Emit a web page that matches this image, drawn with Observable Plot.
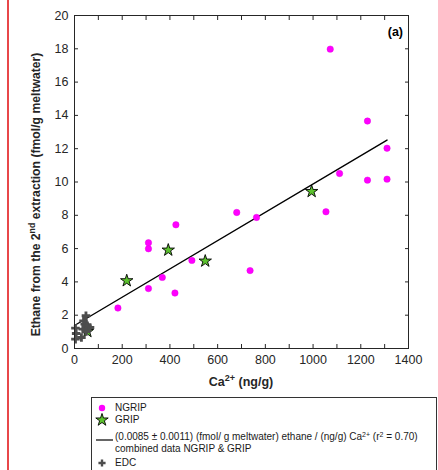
<!DOCTYPE html>
<html>
<head>
<meta charset="utf-8">
<script src="https://cdn.jsdelivr.net/npm/d3@7"></script>
<script src="https://cdn.jsdelivr.net/npm/@observablehq/plot@0.6"></script>
<style>
  body { margin: 0; background: #fff; font-family: "Liberation Sans", Arial, sans-serif; }
  #wrap { position: relative; width: 438px; height: 470px; overflow: hidden; background: #fff; }
  #chart { position: absolute; left: 0; top: 0; }
  #redline { position: absolute; left: 7px; top: 0; width: 2px; height: 470px; background: #e8474a; z-index: 5; }
  #legend { position: absolute; left: 91px; top: 397px; width: 346px; height: 80px; border: 1px solid #333; box-sizing: border-box; background: #fff; color: #1a1a1a; font-size: 10px; }
  #legend .t { position: absolute; left: 23px; white-space: nowrap; line-height: 1; }
  #legend svg { position: absolute; left: 0; top: 0; }
  sup { font-size: 70%; line-height: 0; vertical-align: 0.45em; }
</style>
</head>
<body>
<div id="wrap">
  <div id="chart"></div>
  <div id="legend"></div>
  <div id="redline"></div>
</div>
<script>
// ---- data ----
const ngripCa      = [182, 310, 310, 310, 368, 421, 425, 492, 680, 736, 763, 1054, 1072, 1111, 1228, 1228, 1310, 1310];
const ngripEthane  = [2.43, 6.35, 5.99, 3.60, 4.27, 3.33, 7.43, 5.29, 8.17, 4.68, 7.87, 8.21, 17.98, 10.51, 13.66, 10.11, 12.03, 10.17];
const gripCa       = [54, 219, 393, 548, 994];
const gripEthane   = [1.02, 4.07, 5.91, 5.25, 9.43];
const edcCa        = [48, 38, 43, 54, 65, 4, 35, 49, 7, 29, 4];
const edcEthane    = [1.97, 1.66, 1.46, 1.36, 1.26, 1.22, 1.16, 1.02, 0.90, 0.66, 0.56];
const fitCa        = [0, 1310];
const fitEthane    = [1.38, 12.52];
const xTicks       = [0, 100, 200, 300, 400, 500, 600, 700, 800, 900, 1000, 1100, 1200, 1300, 1400];
const xTickLabels  = ["0", "", "200", "", "400", "", "600", "", "800", "", "1000", "", "1200", "", "1400"];
const yTicks       = [0, 2, 4, 6, 8, 10, 12, 14, 16, 18, 20];

const ngrip = ngripCa.map((x, i) => ({x, y: ngripEthane[i]}));
const grip  = gripCa.map((x, i) => ({x, y: gripEthane[i]}));
const edc   = edcCa.map((x, i) => ({x, y: edcEthane[i]}));
const fit   = fitCa.map((x, i) => ({x, y: fitEthane[i]}));

const axisColor = "#262626";
const W = 438, H = 395, mL = 74, mR = 30, mT = 15, mB = 47;

const plot = Plot.plot({
  width: W, height: H,
  marginLeft: mL, marginRight: mR, marginTop: mT, marginBottom: mB,
  style: { fontFamily: "'Liberation Sans', Arial, sans-serif", fontSize: "12.5px", color: axisColor, background: "#fff" },
  x: { domain: [0, 1400], label: null },
  y: { domain: [0, 20], label: null },
  marks: [
    Plot.line(fit, { x: "x", y: "y", stroke: "#000", strokeWidth: 1.4 }),
    Plot.dot(ngrip, { x: "x", y: "y", r: 3.2, fill: "#ff00ff", stroke: "#e600e6", strokeWidth: 0.5 }),
    Plot.dot(grip, { x: "x", y: "y", symbol: "star", r: 3.9, fill: "#5cc22e", stroke: "#000", strokeWidth: 0.9 }),
    Plot.dot(edc, { x: "x", y: "y", symbol: "cross", r: 3.6, fill: "#4d4d4d", stroke: "none" }),
    Plot.frame({ stroke: axisColor, strokeWidth: 1 }),
    Plot.axisX(xTicks, { anchor: "bottom", tickSize: -4, tickPadding: 11, tickFormat: (d, i) => xTickLabels[i], label: null, stroke: axisColor }),
    Plot.axisX(xTicks, { anchor: "top", tickSize: -4, tickFormat: () => "", label: null, stroke: axisColor }),
    Plot.axisY(yTicks, { anchor: "left", tickSize: -4, tickPadding: 10, label: null, stroke: axisColor }),
    Plot.axisY(yTicks, { anchor: "right", tickSize: -4, tickFormat: () => "", label: null, stroke: axisColor })
  ]
});
document.getElementById("chart").appendChild(plot);

// axis titles and panel label (real text with superscripts)
const svg = d3.select(plot);
const xs = plot.scale("x"), ys = plot.scale("y");
const cx = (xs.range[0] + xs.range[1]) / 2;
const cy = (ys.range[0] + ys.range[1]) / 2;

const xl = svg.append("text")
  .attr("x", cx).attr("y", 386)
  .attr("text-anchor", "middle")
  .attr("font-weight", "bold").attr("font-size", "12.5px").attr("fill", axisColor);
xl.append("tspan").text("Ca");
xl.append("tspan").attr("baseline-shift", "super").attr("font-size", "9px").text("2+");
xl.append("tspan").text(" (ng/g)");

const yl = svg.append("text")
  .attr("transform", `translate(40,${cy + 13}) rotate(-90)`)
  .attr("text-anchor", "middle")
  .attr("font-weight", "bold").attr("font-size", "12.2px").attr("fill", axisColor);
yl.append("tspan").text("Ethane from the 2");
yl.append("tspan").attr("baseline-shift", "super").attr("font-size", "8.8px").text("nd");
yl.append("tspan").text(" extraction (fmol/g meltwater)");

svg.append("text")
  .attr("x", xs.range[1] - 5).attr("y", 36)
  .attr("text-anchor", "end")
  .attr("font-weight", "bold").attr("font-size", "12.5px").attr("fill", "#000")
  .text("(a)");

// ---- legend ----
const leg = d3.select("#legend");
const lsvg = leg.append("svg").attr("width", 30).attr("height", 80);
const mx = 10;
lsvg.append("path").attr("transform", `translate(${mx},10)`)
  .attr("d", d3.symbol(d3.symbolCircle, Math.PI * 3.2 * 3.2)()).attr("fill", "#ff00ff");
lsvg.append("path").attr("transform", `translate(${mx},22)`)
  .attr("d", d3.symbol(d3.symbolStar, Math.PI * 3.9 * 3.9)()).attr("fill", "#5cc22e").attr("stroke", "#000").attr("stroke-width", 0.9);
lsvg.append("line").attr("x1", 4).attr("x2", 21).attr("y1", 42).attr("y2", 42).attr("stroke", "#000").attr("stroke-width", 1.2);
lsvg.append("path").attr("transform", `translate(${mx},65)`)
  .attr("d", d3.symbol(d3.symbolCross, Math.PI * 3.0 * 3.0)()).attr("fill", "#4d4d4d");

const rows = [
  { top: 5,  html: "NGRIP" },
  { top: 17, html: "GRIP" },
  { top: 34, html: "(0.0085 ± 0.0011) (fmol/ g meltwater) ethane / (ng/g) Ca<sup>2+</sup> (r<sup>2</sup> = 0.70)" },
  { top: 46, html: "combined data NGRIP &amp; GRIP" },
  { top: 60, html: "EDC" }
];
rows.forEach(r => {
  leg.append("div").attr("class", "t").style("top", r.top + "px").html(r.html);
});
</script>
</body>
</html>
